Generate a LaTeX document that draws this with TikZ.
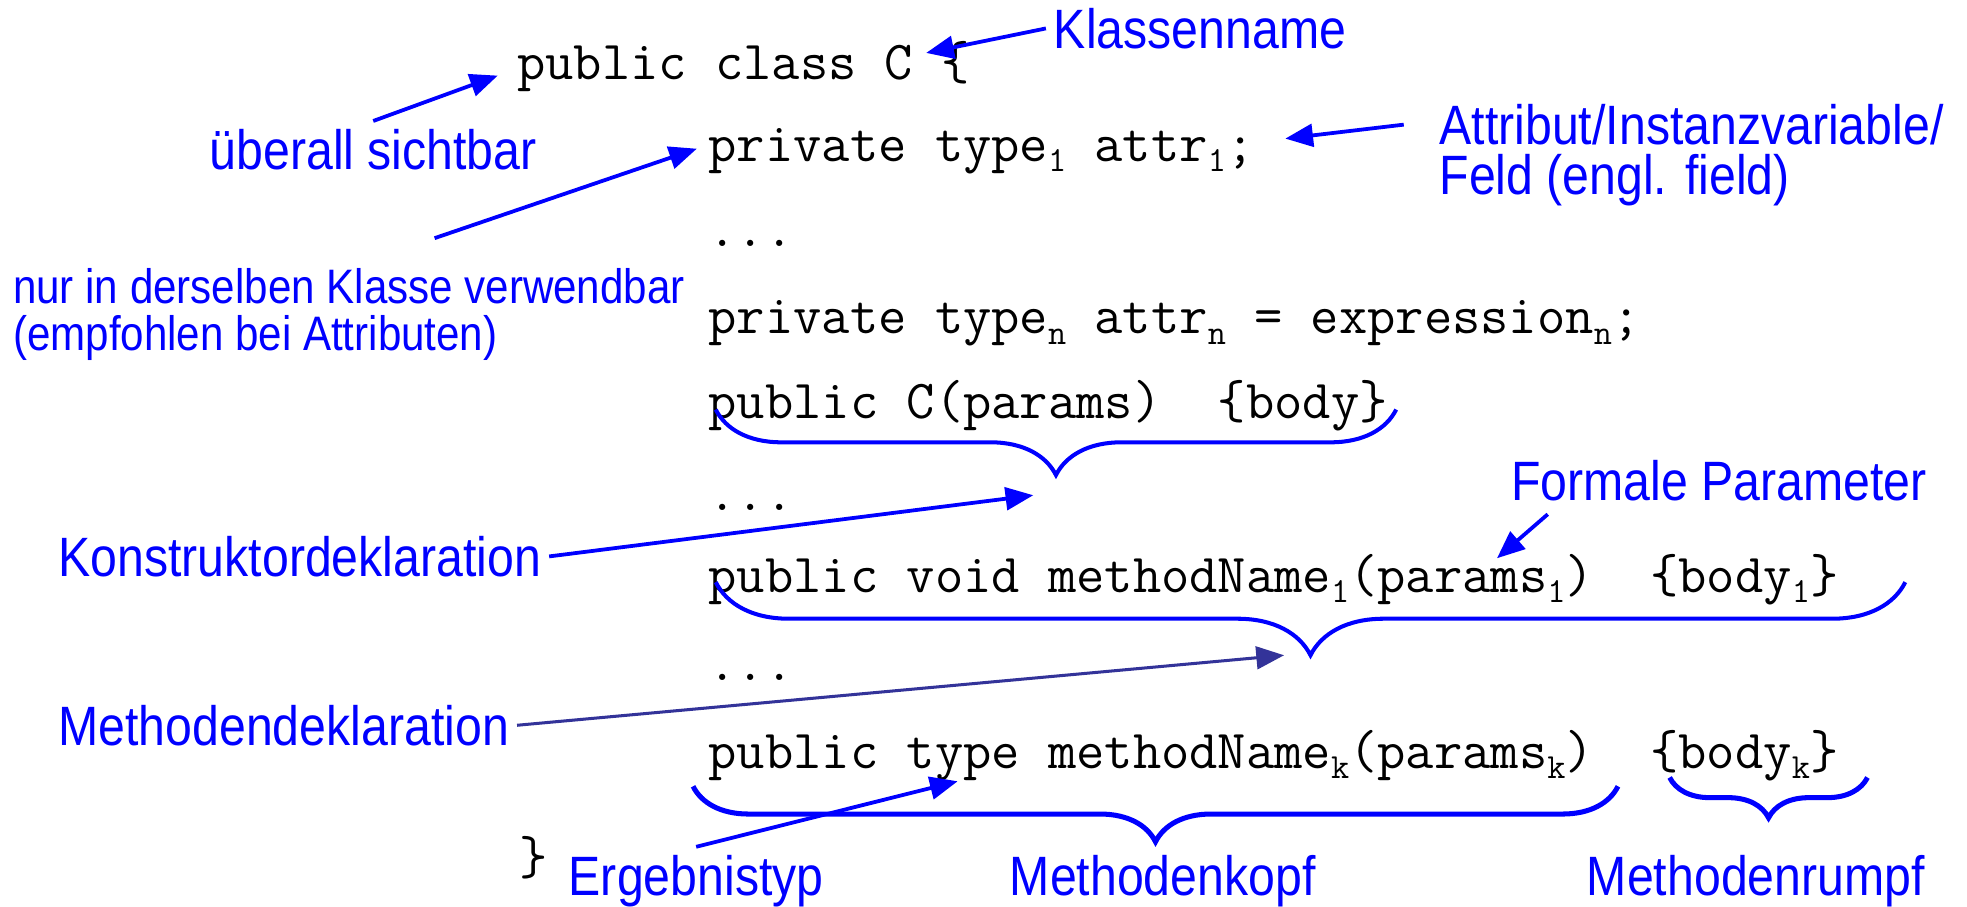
\documentclass[tikz,border=0pt]{standalone}
\usepackage{fontspec}
\usetikzlibrary{arrows.meta,decorations.pathreplacing}
\newfontfamily\lblfont{Liberation Sans}[FakeStretch=0.87]
\definecolor{slideblue}{RGB}{0,0,255}
\definecolor{darkarrow}{RGB}{51,51,153}
\newcommand{\csub}[1]{\raisebox{-4pt}{\fontsize{14}{14}\selectfont #1}}

\begin{document}
\begin{tikzpicture}[x=0.5pt,y=-0.5pt]
\tikzstyle{codeline}=[anchor=base west,inner sep=0pt,font=\ttfamily\fontsize{21.8}{26}\selectfont]
\tikzstyle{anno}=[text=slideblue,align=left,inner sep=3pt,font=\lblfont\fontsize{22}{20}\selectfont]
\tikzstyle{pointer}=[draw=slideblue,line width=1.5pt,-{Triangle[length=11pt,width=9pt]}]
\tikzstyle{brc}=[draw=slideblue,line width=1.6pt,decorate]

\useasboundingbox (0,0) rectangle (1561,719);

% code
\node[codeline] (cls) at (410,63) {public class C \{};
\node[codeline] (att1) at (562,128) {private type\csub{1} attr\csub{1};};
\node[codeline] (dots1) at (562,196) {...};
\node[codeline] (attn) at (562,265) {private type\csub{n} attr\csub{n} = expression\csub{n};};
\node[codeline] (ctor) at (562,332) {public C(params)~~\{body\}};
\node[codeline] (dots2) at (562,405) {...};
\node[codeline] (meth1) at (562,470) {public void methodName\csub{1}(params\csub{1})~~\{body\csub{1}\}};
\node[codeline] (dots3) at (562,540) {...};
\node[codeline] (methk) at (562,610) {public type methodName\csub{k}(params\csub{k})~~\{body\csub{k}\}};
\node[codeline] (close) at (412,694) {\}};

% labels
\node[anno,anchor=north west] (kname) at (830,0) {Klassenname};
\node[anno,anchor=north west] (uebr) at (160,96) {überall sichtbar};
\node[anno,anchor=north west] (attr) at (1136,76) {Attribut/Instanzvariable/\\Feld (engl. field)};
\node[anno,anchor=north west,font=\lblfont\fontsize{19.2}{18.5}\selectfont] (nur) at (4,207) {nur in derselben Klasse verwendbar\\(empfohlen bei Attributen)};
\node[anno,anchor=north west] (konst) at (40,419) {Konstruktordeklaration};
\node[anno,anchor=north west] (formal) at (1193,359) {Formale Parameter};
\node[anno,anchor=north west] (methd) at (40,553) {Methodendeklaration};
\node[anno,anchor=north west] (ergeb) at (445,672) {Ergebnistyp};
\node[anno,anchor=north west] (mkopf) at (795,672) {Methodenkopf};
\node[anno,anchor=north west] (mrumpf) at (1253,672) {Methodenrumpf};

% arrow targets
\coordinate (tipC) at (735,42);
\coordinate (tipPub) at (395,60);
\coordinate (tipAttr) at (1020,110);
\coordinate (tipPriv) at (553,118);
\coordinate (tipCtor) at (820,393);
\coordinate (tipPar) at (1188,443);
\coordinate (tipMeth) at (1019,520);
\coordinate (tipType) at (760,620);

% braces
\draw[brc,decoration={brace,mirror,amplitude=26pt}] (568,325) -- (1108,325);
\draw[brc,decoration={brace,mirror,amplitude=29pt}] (568,462) -- (1512,462);
\draw[brc,line width=2pt,decoration={brace,mirror,amplitude=22pt}] (550,624) -- (1284,624);
\draw[brc,line width=2pt,decoration={brace,mirror,amplitude=16pt}] (1325,617) -- (1482,617);

% arrows
\path (kname.west) edge[pointer] (tipC);
\path (uebr.north) edge[pointer] (tipPub);
\path ([shift={(-22,-24)}]attr.west) edge[pointer] (tipAttr);
\path ([shift={(68,-18)}]nur.north) edge[pointer] (tipPriv);
\path (konst.east) edge[pointer] (tipCtor);
\path ([shift={(-136,4)}]formal.south) edge[pointer] (tipPar);
\path (methd.east) edge[pointer,draw=darkarrow,line width=1.2pt] (tipMeth);
\path (ergeb.north) edge[pointer] (tipType);
\end{tikzpicture}
\end{document}
